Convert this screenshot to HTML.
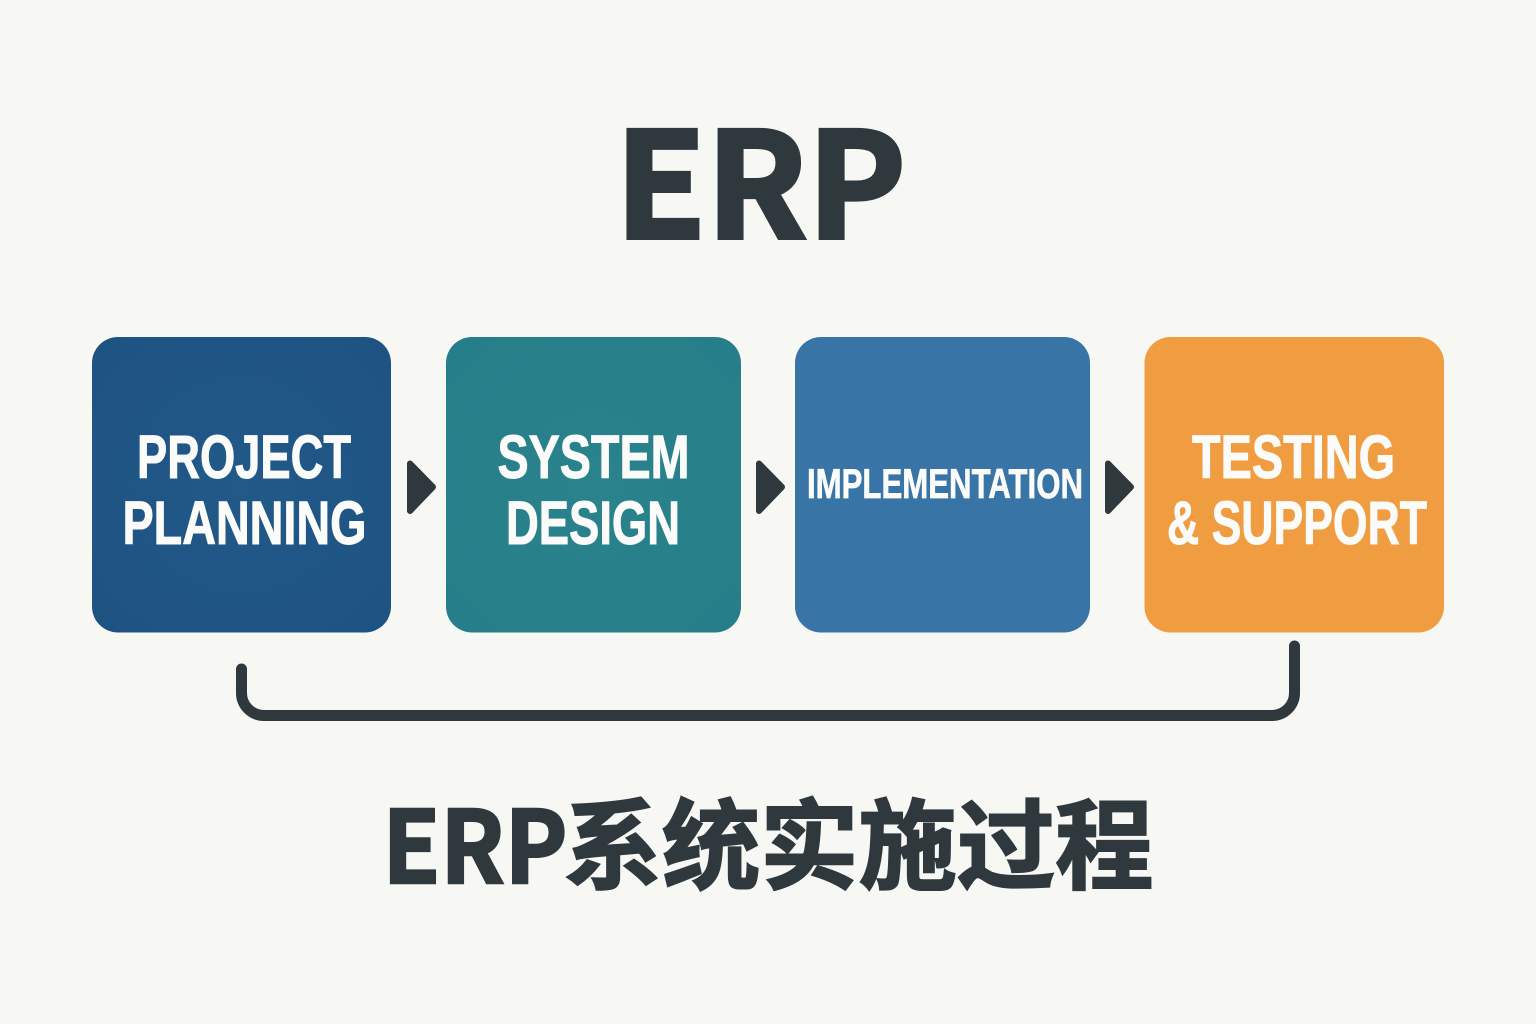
<!DOCTYPE html>
<html><head><meta charset="utf-8">
<style>
html,body{margin:0;padding:0;background:#f7f7f4;width:1536px;height:1024px;overflow:hidden}
svg{display:block}
.t{font-family:"Liberation Sans","Noto Sans CJK SC",sans-serif;font-weight:700;fill:#fbfbf9;stroke:#fbfbf9;stroke-width:1}
.d{font-family:"Noto Sans CJK SC","Liberation Sans",sans-serif;font-weight:700;fill:#2f383d;stroke:#2f383d;stroke-linejoin:miter}
</style></head><body>
<svg width="1536" height="1024" viewBox="0 0 1536 1024" xmlns="http://www.w3.org/2000/svg">
<defs>
<radialGradient id="g1" cx="50%" cy="50%" r="70%"><stop offset="0" stop-color="#215988"/><stop offset="1" stop-color="#1e5282"/></radialGradient>
<radialGradient id="g2" cx="50%" cy="50%" r="70%"><stop offset="0" stop-color="#2a828c"/><stop offset="1" stop-color="#267e8a"/></radialGradient>
</defs>
<rect width="1536" height="1024" fill="#f7f7f4"/>
<text class="d" x="615" y="238" font-size="146" textLength="291" lengthAdjust="spacingAndGlyphs" style="stroke-width:4">ERP</text>

<rect x="92" y="337" width="299" height="295.5" rx="26" fill="url(#g1)"/>
<rect x="446" y="337" width="295" height="295.5" rx="26" fill="url(#g2)"/>
<rect x="795" y="337" width="295" height="295.5" rx="26" fill="#3874a6"/>
<rect x="1144.500" y="337" width="299.500" height="295.500" rx="26" fill="#f09c40"/>

<g font-size="61">
<text class="t" x="137" y="478" textLength="214" lengthAdjust="spacingAndGlyphs">PROJECT</text>
<text class="t" x="122.500" y="544" textLength="244" lengthAdjust="spacingAndGlyphs">PLANNING</text>
<text class="t" x="497.500" y="478" textLength="192" lengthAdjust="spacingAndGlyphs">SYSTEM</text>
<text class="t" x="506" y="544" textLength="174" lengthAdjust="spacingAndGlyphs">DESIGN</text>
<text class="t" x="1192" y="478" textLength="203" lengthAdjust="spacingAndGlyphs">TESTING</text>
<text class="t" x="1167" y="544" textLength="260" lengthAdjust="spacingAndGlyphs">&amp; SUPPORT</text>
</g>
<text class="t" x="807" y="498" font-size="42" textLength="276" lengthAdjust="spacingAndGlyphs" style="stroke-width:.7">IMPLEMENTATION</text>

<g fill="#2f383d" stroke="#2f383d" stroke-width="6" stroke-linejoin="round">
<polygon points="410,463.500 433,487 410,511"/>
<polygon points="759,463.500 782,487 759,511"/>
<polygon points="1108,463.500 1131,487 1108,511"/>
</g>

<path d="M241.500 669 V693 A22.500 22.500 0 0 0 264 715.500 H1272 A22.500 22.500 0 0 0 1294.500 693 V646" fill="none" stroke="#2f383d" stroke-width="11" stroke-linecap="round"/>

<text class="d" x="382.500" y="883" font-size="100" textLength="185" lengthAdjust="spacingAndGlyphs" style="stroke-width:2.5">ERP</text>
<text class="d" x="563.500" y="881" font-size="98" textLength="590" lengthAdjust="spacingAndGlyphs" style="stroke-width:2">系统实施过程</text>
</svg>
</body></html>
